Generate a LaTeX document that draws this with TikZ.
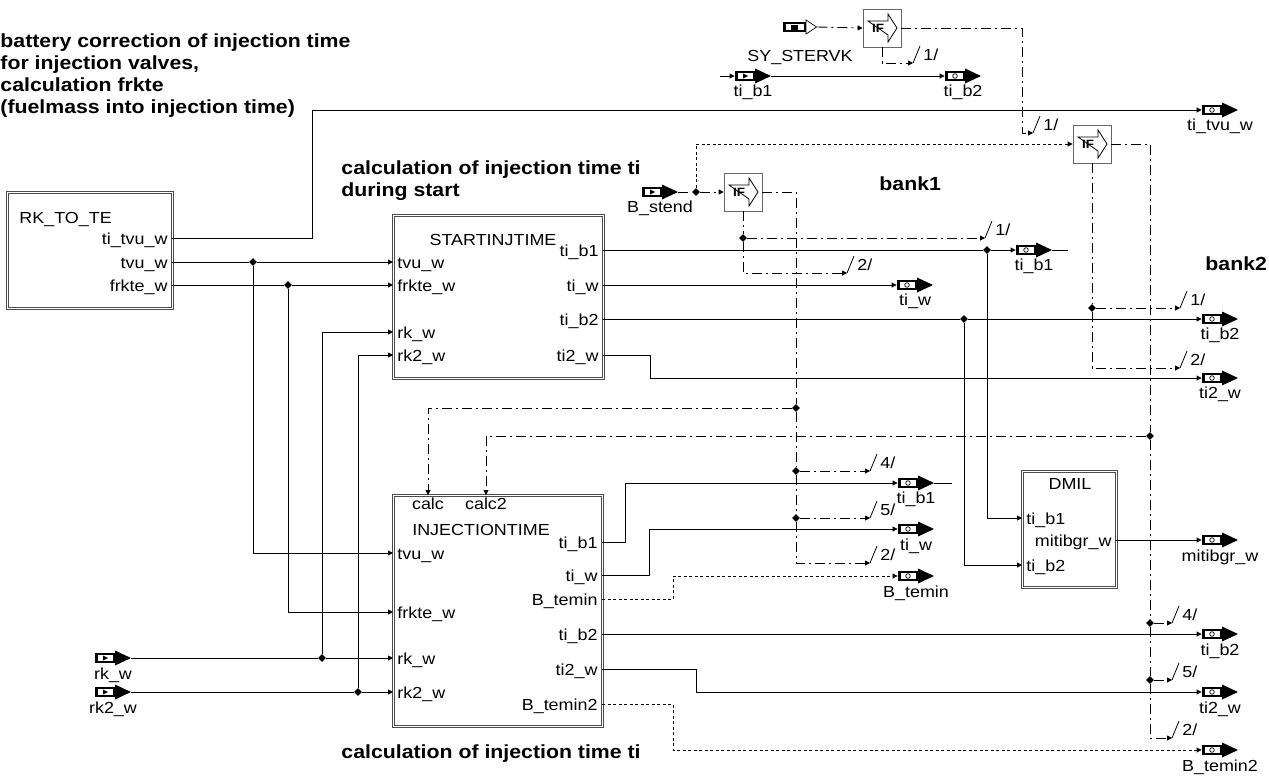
\documentclass[tikz,border=0pt]{standalone}
\usepackage{fontspec}
\setmainfont{Liberation Sans}[FakeStretch=1.12]
\usetikzlibrary{arrows.meta,shapes.geometric}

\newcommand{\lab}{\fontsize{16}{18}\selectfont}
\newcommand{\hd}{\fontsize{19}{22}\selectfont\bfseries}
% bus split marker: name, position, number
\newcommand{\busmark}[3]{%
  \coordinate (#1) at (#2);
  \draw[line width=0.8pt] (#1) -- ++(7pt,17pt);
  \node[font=\lab, anchor=base west, inner sep=0pt] (#1-n)
    at ([xshift=10pt,yshift=3pt]#1) {#3/};
}

\tikzset{
  oport/.style={minimum width=36pt, minimum height=15pt, inner sep=0pt,
    fill=white,
    label={[font=\lab, inner sep=0pt, yshift=-1pt]below:#1},
    path picture={
      \fill[black] ([yshift=-5pt]path picture bounding box.west) rectangle ++(20pt,10pt);
      \fill[white] ([xshift=2.5pt,yshift=-3pt]path picture bounding box.west)
        rectangle ++(15pt,6pt);
      \draw[black, line width=0.7pt] ([xshift=10pt]path picture bounding box.west) circle (2.3pt);
      \fill[black] ([xshift=20pt,yshift=-7.5pt]path picture bounding box.west)
        -- ++(16pt,7.5pt) -- ++(-16pt,7.5pt) -- cycle;
    }},
  iport/.style={minimum width=36pt, minimum height=15pt, inner sep=0pt,
    fill=white,
    label={[font=\lab, inner sep=0pt, yshift=-1pt]below:#1},
    path picture={
      \fill[black] ([yshift=-5pt]path picture bounding box.west) rectangle ++(20pt,10pt);
      \fill[white] ([xshift=2.5pt,yshift=-3pt]path picture bounding box.west)
        rectangle ++(15pt,6pt);
      \fill[black] ([xshift=8pt,yshift=-2.5pt]path picture bounding box.west)
        -- ++(5pt,2.5pt) -- ++(-5pt,2.5pt) -- cycle;
      \fill[black] ([xshift=20pt,yshift=-7.5pt]path picture bounding box.west)
        -- ++(16pt,7.5pt) -- ++(-16pt,7.5pt) -- cycle;
    }},
  cport/.style={minimum width=34pt, minimum height=15pt, inner sep=0pt,
    fill=white,
    label={[font=\lab, inner sep=0pt, yshift=-15pt]below:#1},
    path picture={
      \fill[black] ([yshift=-5pt]path picture bounding box.west) rectangle ++(23pt,10pt);
      \fill[white] ([xshift=2.5pt,yshift=-3pt]path picture bounding box.west)
        rectangle ++(18pt,6pt);
      \fill[black] ([xshift=8pt,yshift=-2.5pt]path picture bounding box.west)
        rectangle ++(7pt,5pt);
      \draw[black, fill=white, line width=0.7pt] ([xshift=23pt,yshift=-7pt]path picture bounding box.west)
        -- ++(10.5pt,7pt) -- ++(-10.5pt,7pt) -- cycle;
    }}
}

\begin{document}
\begin{tikzpicture}[x=1pt, y=-1pt, line width=0.9pt,
  >={Triangle[length=5pt,width=5pt]},
  block/.style={draw=black!70, double, double distance=1.5pt, line width=0.7pt,
                inner sep=0pt, anchor=north west},
  plab/.style={font=\lab, inner xsep=4pt, inner ysep=2pt, text height=12pt, text depth=0pt},
  ctl/.style={dash pattern=on 10pt off 4pt on 2pt off 4pt},
  flg/.style={dash pattern=on 3pt off 2.5pt},
  jdot/.style={diamond, fill, inner sep=0pt, minimum size=8pt},
  iff/.style={draw=black!60, line width=0.8pt, minimum size=38pt, inner sep=0pt,
    font=\bfseries\fontsize{12}{12}\selectfont,
    path picture={\draw[black, line width=0.8pt]
      ([shift={(-14pt,7pt)}]path picture bounding box.center) -- ++(20pt,0pt)
      -- ++(0pt,7pt) -- ++(9pt,-14pt) -- ++(-9pt,-14pt) -- ++(0pt,7pt) -- cycle;}},
  ttl/.style={font=\hd, inner sep=0pt, anchor=base west, align=left}
]
\useasboundingbox (0,0) rectangle (1269,779);

% titles
\node[ttl, anchor=north west] (t-main) at (0,33)
  {battery correction of injection time\\for injection valves,\\calculation frkte\\(fuelmass into injection time)};
\node[ttl, anchor=north west] (t-start) at (341,160)
  {calculation of injection time ti\\during start};
\node[ttl] (t-inj) at (341,758) {calculation of injection time ti};
\node[ttl] (t-bank1) at (879,190) {bank1};
\node[ttl] (t-bank2) at (1205,270) {bank2};

% RK_TO_TE
\node[block, minimum width=165pt, minimum height=116pt] (rkte) at (7,192) {};
\node[plab, anchor=west] (rk-name) at (15,217) {RK\_TO\_TE};
\node[plab, anchor=east] (rk-o1) at (172,238) {ti\_tvu\_w};
\node[plab, anchor=east] (rk-o2) at (172,262) {tvu\_w};
\node[plab, anchor=east] (rk-o3) at (172,285) {frkte\_w};

% STARTINJTIME
\node[block, minimum width=210pt, minimum height=163pt] (sinj) at (393,215) {};
\node[font=\lab] (s-name) at (493,240) {STARTINJTIME};
\node[plab, anchor=west] (s-tvu) at (393,262) {tvu\_w};
\node[plab, anchor=west] (s-frk) at (393,285) {frkte\_w};
\node[plab, anchor=west] (s-rk) at (393,332) {rk\_w};
\node[plab, anchor=west] (s-rk2) at (393,355) {rk2\_w};
\node[plab, anchor=east] (s-tib1) at (603,250) {ti\_b1};
\node[plab, anchor=east] (s-tiw) at (603,285) {ti\_w};
\node[plab, anchor=east] (s-tib2) at (603,319) {ti\_b2};
\node[plab, anchor=east] (s-ti2w) at (603,355) {ti2\_w};

% INJECTIONTIME
\node[block, minimum width=209pt, minimum height=231pt] (inj) at (393,495) {};
\node[plab, anchor=north] (i-calc) at (428,495) {calc};
\node[plab, anchor=north] (i-calc2) at (486,495) {calc2};
\node[font=\lab] (i-name) at (481,530) {INJECTIONTIME};
\node[plab, anchor=west] (i-tvu) at (393,553) {tvu\_w};
\node[plab, anchor=west] (i-frk) at (393,612) {frkte\_w};
\node[plab, anchor=west] (i-rk) at (393,658) {rk\_w};
\node[plab, anchor=west] (i-rk2) at (393,692) {rk2\_w};
\node[plab, anchor=east] (i-tib1) at (602,542) {ti\_b1};
\node[plab, anchor=east] (i-tiw) at (602,575) {ti\_w};
\node[plab, anchor=east] (i-bt) at (602,599) {B\_temin};
\node[plab, anchor=east] (i-tib2) at (602,634) {ti\_b2};
\node[plab, anchor=east] (i-ti2w) at (602,669) {ti2\_w};
\node[plab, anchor=east] (i-bt2) at (602,704) {B\_temin2};

% DMIL
\node[block, minimum width=94pt, minimum height=116pt] (dmil) at (1022,471) {};
\node[font=\lab] (d-name) at (1070,484) {DMIL};
\node[plab, anchor=west] (d-tib1) at (1022,518) {ti\_b1};
\node[plab, anchor=west] (d-tib2) at (1022,565) {ti\_b2};
\node[plab, anchor=east] (d-mit) at (1116,540) {mitibgr\_w};

% IF switches
\node[iff] (if1) at (882,28) {\kern-8pt IF};
\node[iff] (if2) at (1092,144) {\kern-8pt IF};
\node[iff] (if3) at (743,192) {\kern-8pt IF};

% ports
\node[cport=SY\_STERVK] (p-sy) at (800,27) {};
\node[iport=ti\_b1] (p-top1) at (753,76) {};
\node[oport=ti\_b2] (p-top2) at (963,76) {};
\node[oport=ti\_tvu\_w] (p-tivu) at (1220,110) {};
\node[iport=B\_stend] (p-bst) at (660,192) {};
\node[oport=ti\_b1] (p-b1tib1) at (1034,250) {};
\node[oport=ti\_w] (p-b1tiw) at (915,285) {};
\node[oport=ti\_b2] (p-b2tib2) at (1220,319) {};
\node[oport=ti2\_w] (p-b2ti2w) at (1220,378) {};
\node[oport=ti\_b1] (p-itib1) at (916,483) {};
\node[oport=ti\_w] (p-itiw) at (916,529) {};
\node[oport=B\_temin] (p-ibt) at (916,576) {};
\node[oport=mitibgr\_w] (p-mit) at (1220,540) {};
\node[oport=ti\_b2] (p-itib2) at (1220,634) {};
\node[oport=ti2\_w] (p-iti2w) at (1220,692) {};
\node[oport=B\_temin2] (p-ibt2) at (1220,750) {};
\node[iport=rk\_w] (p-rk) at (113,658) {};
\node[iport=rk2\_w] (p-rk2) at (113,692) {};

% junctions
\node[jdot] (j1) at (253,262) {};
\node[jdot] (j2) at (288,285) {};
\node[jdot] (j3) at (322,658) {};
\node[jdot] (j4) at (358,692) {};
\node[jdot] (j5) at (987,250) {};
\node[jdot] (j6) at (964,319) {};
\node[jdot] (j7) at (696,192) {};
\node[jdot] (j8) at (796,408) {};
\node[jdot] (j9) at (796,471) {};
\node[jdot] (j10) at (796,518) {};
\node[jdot] (j11) at (743,238) {};
\node[jdot] (j12) at (1150,436) {};
\node[jdot] (j13) at (1150,623) {};
\node[jdot] (j14) at (1150,680) {};
\node[jdot] (j15) at (1092,308) {};

% bus markers
\busmark{ma}{1033,133}{1}
\busmark{mb}{913,63}{1}
\busmark{mc}{985,238}{1}
\busmark{md}{847,273}{2}
\busmark{me}{870,471}{4}
\busmark{mf}{870,518}{5}
\busmark{mg}{870,563}{2}
\busmark{mh}{1180,308}{1}
\busmark{mi}{1180,368}{2}
\busmark{mj}{1172,623}{4}
\busmark{mk}{1172,680}{5}
\busmark{ml}{1172,738}{2}
\coordinate (s0) at (720,76);
\coordinate (e1) at (1068,250);
\coordinate (e2) at (952,483);

% data lines
\draw[->] (rk-o1.east) -- ++(140,0) |- (p-tivu.west);
\draw[->] (rk-o2.east) -- (j1) -- (s-tvu.west);
\draw[->] (j1) |- (i-tvu.west);
\draw[->] (rk-o3.east) -- (j2) -- (s-frk.west);
\draw[->] (j2) |- (i-frk.west);
\draw[->] (p-rk.east) -- (j3) -- (i-rk.west);
\draw[->] (j3) |- (s-rk.west);
\draw[->] (p-rk2.east) -- (j4) -- (i-rk2.west);
\draw[->] (j4) |- (s-rk2.west);

\draw[->] (s-tib1.east) -- (j5) -- (p-b1tib1.west);
\draw (p-b1tib1.east) -- (e1);
\draw[->] (j5) |- (d-tib1.west);
\draw[->] (s-tiw.east) -- (p-b1tiw.west);
\draw[->] (s-tib2.east) -- (j6) -- (p-b2tib2.west);
\draw[->] (j6) |- (d-tib2.west);
\draw[->] (s-ti2w.east) -- ++(47,0) |- (p-b2ti2w.west);

\draw[->] (i-tib1.east) -- ++(23,0) |- (p-itib1.west);
\draw (p-itib1.east) -- (e2);
\draw[->] (i-tiw.east) -- ++(47,0) |- (p-itiw.west);
\draw[->, flg] (i-bt.east) -- ++(71,0) |- (p-ibt.west);
\draw[->] (i-tib2.east) -- (p-itib2.west);
\draw[->] (i-ti2w.east) -- ++(94,0) |- (p-iti2w.west);
\draw[->, flg] (i-bt2.east) -- ++(71,0) |- (p-ibt2.west);
\draw[->] (d-mit.east) -- (p-mit.west);

\draw[->] (s0) -- (p-top1.west);
\draw[->] (p-top1.east) -- (p-top2.west);

% control lines
\draw[->, ctl] (p-sy.east) -- (if1.west);
\draw[->, ctl] (if1.east) -- ++(121,0) |- (ma);
\draw[->, ctl] (if1.south) |- (mb);

\draw[ctl] (p-bst.east) -- (j7);
\draw[->, ctl] (j7) -- (if3.west);
\draw[->, flg] (j7) |- (if2.west);

\draw[ctl] (if3.east) -| (j8);
\draw[ctl] (j8) -- (j9);
\draw[ctl] (j9) -- (j10);
\draw[->, ctl] (j10) |- (mg);
\draw[->, ctl] (j9) -- (me);
\draw[->, ctl] (j10) -- (mf);
\draw[->, ctl] (j8) -| (i-calc.north);
\draw[ctl] (if3.south) -- (j11);
\draw[->, ctl] (j11) -- (mc);
\draw[->, ctl] (j11) |- (md);

\draw[ctl] (if2.east) -| (j12);
\draw[ctl] (j12) -- (j13);
\draw[ctl] (j13) -- (j14);
\draw[->, ctl] (j14) |- (ml);
\draw[->, ctl] (j13) -- (mj);
\draw[->, ctl] (j14) -- (mk);
\draw[->, ctl] (j12) -| (i-calc2.north);
\draw[ctl] (if2.south) -- (j15);
\draw[->, ctl] (j15) -- (mh);
\draw[->, ctl] (j15) |- (mi);
\end{tikzpicture}
\end{document}
